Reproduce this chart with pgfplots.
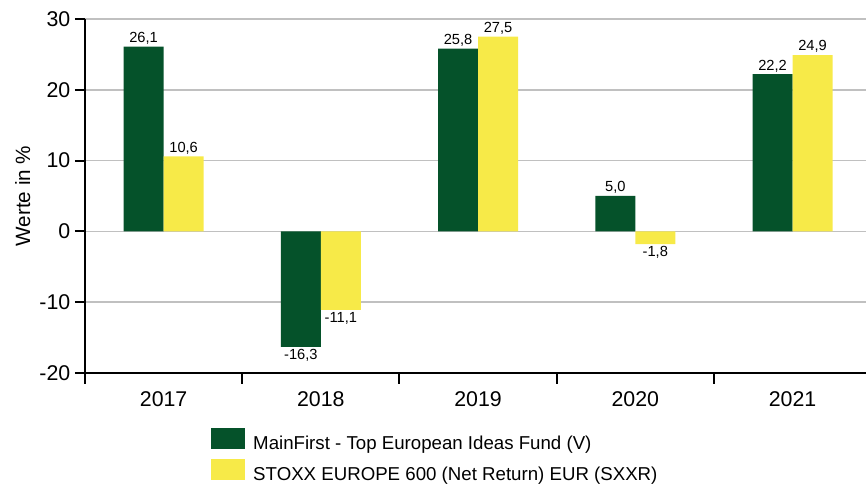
\documentclass[border=0pt]{standalone}
\usepackage{pgfplots}
\pgfplotsset{compat=1.18}
\usepackage{fontspec}
\setmainfont{Liberation Sans}
\definecolor{fgreen}{RGB}{5,82,42}
\definecolor{fyellow}{RGB}{247,234,72}
\definecolor{gridc}{RGB}{192,192,192}
\begin{document}
\begin{tikzpicture}
\begin{axis}[
  name=ax,
  scale only axis,
  width=585.75pt, height=265.5pt,
  xmin=-0.5, xmax=4.467,
  ymin=-20, ymax=30,
  ytick={-20,-10,0,10,20,30},
  xtick={0,1,2,3,4},
  xticklabels={2017,2018,2019,2020,2021},
  minor xtick={-0.5,0.5,1.5,2.5,3.5},
  axis x line*=bottom,
  axis y line*=left,
  axis line style={line width=1.5pt, black},
  tick align=outside,
  x tick style={draw=none},
  minor x tick style={draw=black, line width=1.5pt},
  minor tick length=8pt,
  y tick style={line width=1.5pt, black},
  major tick length=7.5pt,
  ymajorgrids,
  grid style={gridc, line width=1.2pt},
  tick label style={font=\fontsize{16}{19}\selectfont},
  /pgf/number format/assume math mode=true,
  xticklabel style={yshift=-3pt},
  ylabel={Werte in \%},
  ylabel style={font=\fontsize{15.5}{18}\selectfont},
  ybar=0pt,
  bar width=30pt,
  nodes near coords,
  nodes near coords style={font=\fontsize{11}{13}\selectfont, inner sep=1.5pt, /pgf/number format/.cd, fixed, fixed zerofill, precision=1, use comma, assume math mode=true},
  legend style={at={(axis description cs:0.1613,0)}, anchor=north west, yshift=-41pt, draw=none, fill=none, inner sep=0pt, font=\fontsize{14}{16}\selectfont, row sep=3.5pt, legend cell align=left},
  legend image code/.code={\fill[#1, draw=none] (0pt,-4pt) rectangle (25pt,11.75pt); \path (29.5pt,0pt);},
  clip=false,
]
\addplot[fill=fgreen, draw=none] coordinates {(0,26.1) (1,-16.3) (2,25.8) (3,5.0) (4,22.2)};
\addlegendentry{MainFirst - Top European Ideas Fund (V)}
\addplot[fill=fyellow, draw=none] coordinates {(0,10.6) (1,-11.1) (2,27.5) (3,-1.8) (4,24.9)};
\addlegendentry{STOXX EUROPE 600 (Net Return) EUR (SXXR)}
\end{axis}
\pgfresetboundingbox
\path ([xshift=-63.75pt,yshift=-83.25pt]ax.south west) rectangle ([xshift=585.75pt,yshift=279.75pt]ax.south west);
\end{tikzpicture}
\end{document}
